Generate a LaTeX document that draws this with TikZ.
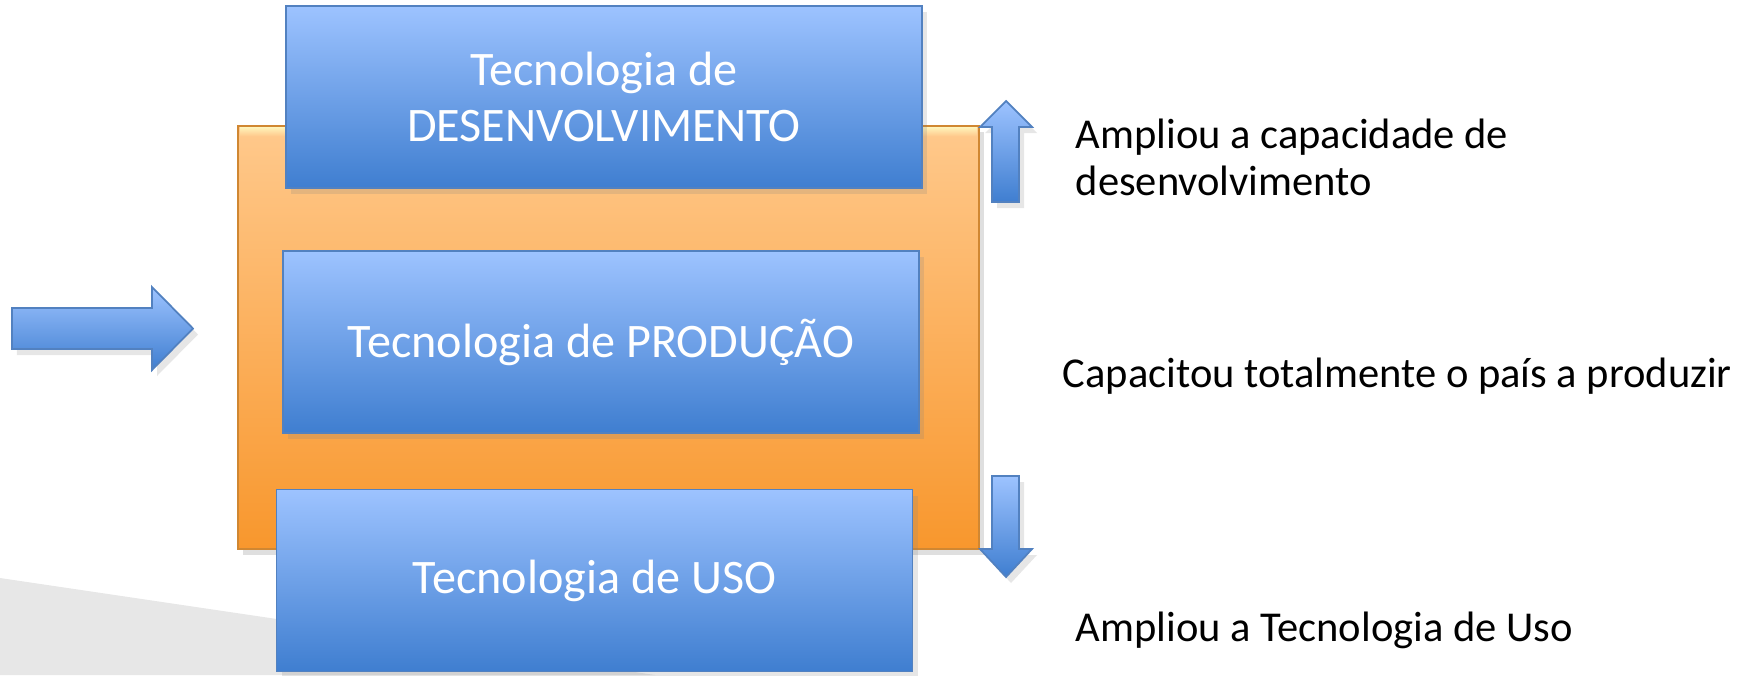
\documentclass[tikz,border=0pt]{standalone}
\usepackage{fontspec}
\setmainfont{Carlito}
\usepackage{xcolor}
\usetikzlibrary{shadows}
\definecolor{boxtop}{HTML}{9DC3FF}
\definecolor{boxbot}{HTML}{3F7ED0}
\definecolor{boxline}{HTML}{5281C0}
\definecolor{orgtop}{HTML}{FFC98C}
\definecolor{orgbot}{HTML}{F8972D}
\definecolor{orgline}{HTML}{D08732}
\definecolor{orgbevel}{HTML}{FFF2B8}
\definecolor{slidegrey}{HTML}{E7E7E7}

\tikzset{
	techbox/.style={rectangle,draw=boxline,line width=0.5pt,top color=boxtop,bottom color=boxbot,
		minimum width=6.36cm,minimum height=1.82cm,inner sep=0pt,align=center,text=white,
		font=\fontsize{13.7}{16}\selectfont,
		drop shadow={shadow xshift=0.5mm,shadow yshift=-0.6mm,opacity=0.2}},
	blockarrow/.style={draw=boxline,line width=0.5pt,top color=boxtop,bottom color=boxbot,
		drop shadow={shadow xshift=0.5mm,shadow yshift=-0.6mm,opacity=0.2}},
	note/.style={anchor=base west,inner sep=0pt,align=left,font=\fontsize{12.1}{13.2}\selectfont}
}

\begin{document}
\begin{tikzpicture}
	\useasboundingbox (0,0) rectangle (17.41,-6.75);
	\fill[slidegrey] (0,-5.78) -- (6.55,-6.75) -- (0,-6.75) -- cycle;
	\draw[orgline,line width=0.5pt,top color=orgtop,bottom color=orgbot,
		drop shadow={shadow xshift=0.5mm,shadow yshift=-0.6mm,opacity=0.25}]
		(2.38,-1.26) rectangle (9.79,-5.49);
	\shade[top color=orgbevel,bottom color=orgtop] (2.40,-1.275) rectangle (9.77,-1.36);
	\node[techbox] (dev) at (6.04,-0.97) {Tecnologia de\\DESENVOLVIMENTO};
	\node[techbox] (prod) at (6.01,-3.42) {Tecnologia de PRODUÇÃO};
	\node[techbox] (uso) at (5.945,-5.805) {Tecnologia de USO};
	\draw[blockarrow] (0.12,-3.08) -- (1.52,-3.08) -- (1.52,-2.87) -- (1.93,-3.285)
		-- (1.52,-3.70) -- (1.52,-3.49) -- (0.12,-3.49) -- cycle;
	\draw[blockarrow] (9.92,-2.02) -- (9.92,-1.27) -- (9.80,-1.27) -- (10.06,-1.01)
		-- (10.32,-1.27) -- (10.19,-1.27) -- (10.19,-2.02) -- cycle;
	\draw[blockarrow] (9.92,-4.76) -- (10.19,-4.76) -- (10.19,-5.49) -- (10.32,-5.49)
		-- (10.06,-5.77) -- (9.80,-5.49) -- (9.92,-5.49) -- cycle;
	\node[note] (amplia) at (10.75,-1.95) {Ampliou a capacidade de\\desenvolvimento};
	\node[note] (capacita) at (10.62,-3.87) {Capacitou totalmente o país a produzir};
	\node[note] (ampliauso) at (10.75,-6.41) {Ampliou a Tecnologia de Uso};
\end{tikzpicture}
\end{document}
